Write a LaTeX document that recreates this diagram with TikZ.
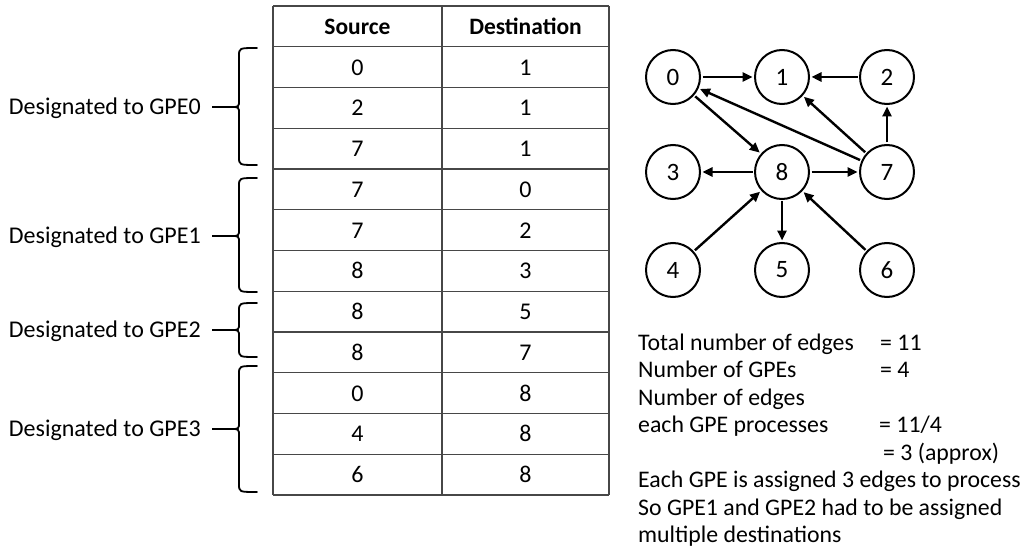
\documentclass[tikz,border=0pt]{standalone}
\usepackage{fontspec}
\setmainfont{Carlito}
\usetikzlibrary{arrows.meta}

\begin{document}
\begin{tikzpicture}[x=1pt,y=-1pt,
  gridline/.style={draw=black!72, line width=1.1pt},
  cell/.style={anchor=base, inner sep=0pt, font=\fontsize{24}{28}\selectfont},
  headcell/.style={cell, font=\fontsize{23.5}{28}\selectfont\bfseries},
  gpelabel/.style={anchor=base east, inner sep=0pt, font=\fontsize{24}{28}\selectfont},
  bracepath/.style={line width=1.8pt, line cap=round},
  vtx/.style={circle, draw, line width=2pt, minimum size=54pt, inner sep=0pt,
              outer sep=2.5pt, font=\fontsize{25}{29}\selectfont},
  arc/.style={-{Triangle[length=10pt,width=9pt]}, line width=2.4pt},
  note/.style={anchor=base west, inner sep=0pt, font=\fontsize{23.8}{28}\selectfont}
]
\useasboundingbox (0,0) rectangle (1026,559);

% ---------- edge table ----------
\foreach \k in {0,...,12}
  \draw[gridline] (273,{6+40.75*\k}) -- (609,{6+40.75*\k});
\foreach \x in {273,442,609}
  \draw[gridline] (\x,6) -- (\x,495);

\node[headcell] (hsrc) at (357.5,{26.4+8}) {Source};
\node[headcell] (hdst) at (525.5,{26.4+8}) {Destination};

\foreach [count=\i] \s/\d in {0/1,2/1,7/1,7/0,7/2,8/3,8/5,8/7,0/8,4/8,6/8}{
  \node[cell] (src\i) at (357.5,{6+40.75*\i+20.4+8}) {\s};
  \node[cell] (dst\i) at (525.5,{6+40.75*\i+20.4+8}) {\d};
}

% ---------- braces grouping the rows ----------
\foreach \top/\bot/\mid/\g in {48/165/107/0, 178/292/236/1, 303/357/330/2, 366/492/429/3}{
  \draw[bracepath]
    (257,\top) .. controls (239,\top) .. (239,{\top+8})
    -- (239,{\mid-7}) .. controls (239,\mid) .. (231,\mid)
    .. controls (239,\mid) .. (239,{\mid+7})
    -- (239,{\bot-8}) .. controls (239,\bot) .. (257,\bot);
  \coordinate (tip\g) at (231,\mid);
  \node[gpelabel] (gpe\g) at (201,{\mid+7.5}) {Designated to GPE\g};
  \coordinate (lead\g) at (212,\mid);
  \draw[line width=1.7pt] (lead\g) -- (tip\g);
}

% ---------- graph ----------
\node[vtx] (n0) at (673,77)  {0};
\node[vtx] (n1) at (782,77)  {1};
\node[vtx] (n2) at (887,77)  {2};
\node[vtx] (n3) at (673,172) {3};
\node[vtx] (n8) at (782,172) {8};
\node[vtx] (n7) at (887,172) {7};
\node[vtx] (n4) at (673,270) {4};
\node[vtx] (n5) at (782,270) {5};
\node[vtx] (n6) at (887,270) {6};

\foreach \a/\b in {0/1, 2/1, 7/1, 7/0, 7/2, 8/3, 8/5, 8/7, 0/8, 4/8, 6/8}
  \draw[arc] (n\a) -- (n\b);

% ---------- notes ----------
\node[note] (t1) at (638,350)   {Total number of edges};
\node[note] (v1) at (880,350)   {= 11};
\node[note] (t2) at (638,377.5) {Number of GPEs};
\node[note] (v2) at (880,377.5) {= 4};
\node[note] (t3) at (638,405)   {Number of edges};
\node[note] (t4) at (638,432.5) {each GPE processes};
\node[note] (v4) at (879,432.5) {= 11/4};
\node[note] (v5) at (883,460)   {= 3 (approx)};
\node[note] (t6) at (638,487.5) {Each GPE is assigned 3 edges to process};
\node[note] (t7) at (638,515)   {So GPE1 and GPE2 had to be assigned};
\node[note] (t8) at (638,542.5) {multiple destinations};
\end{tikzpicture}
\end{document}
